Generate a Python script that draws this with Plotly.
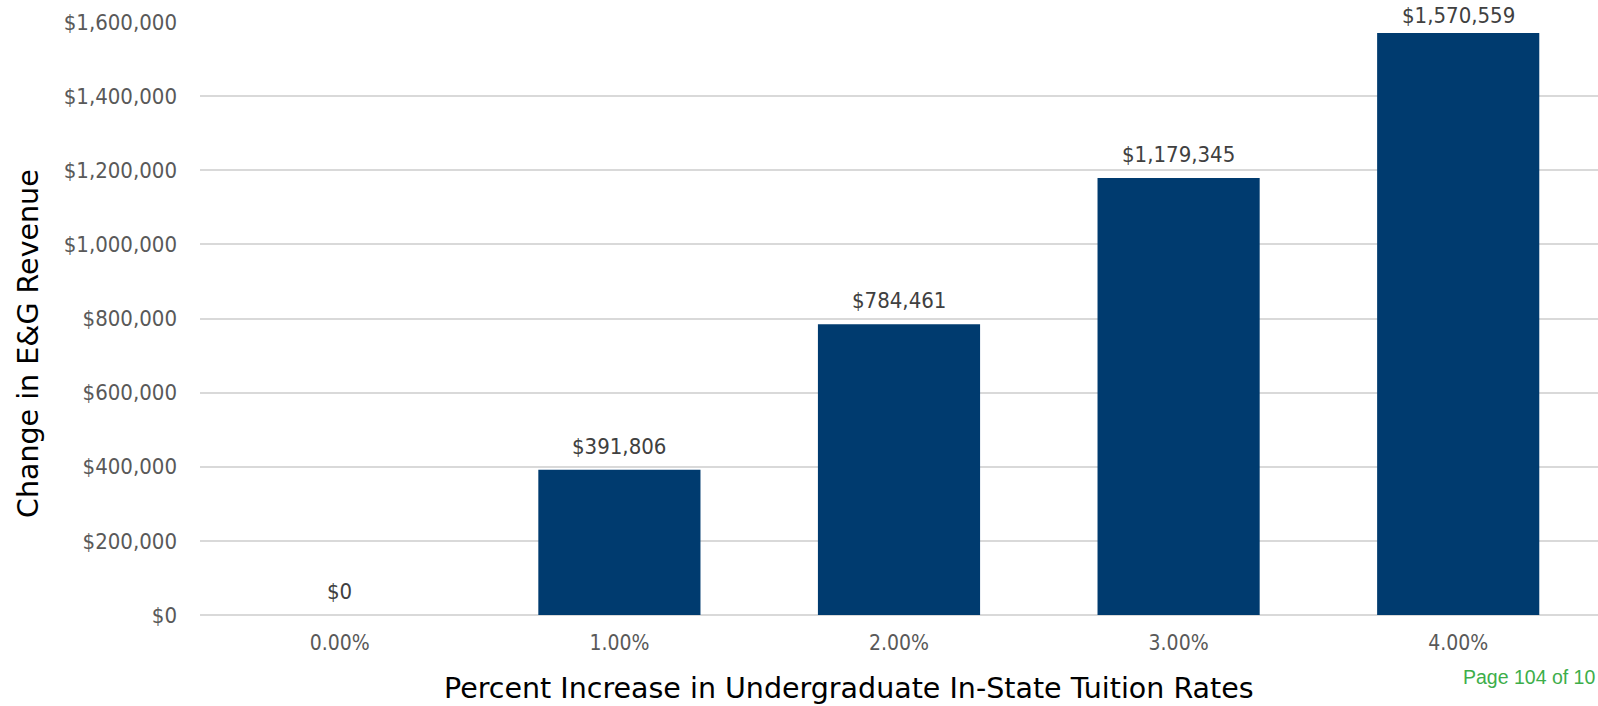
import plotly.graph_objects as go

# Tuition scenarios and resulting change in E&G revenue
categories = ["0.00%", "1.00%", "2.00%", "3.00%", "4.00%"]
revenue_change = [0, 391806, 784461, 1179345, 1570559]
y_tick_values = [0, 200000, 400000, 600000, 800000, 1000000, 1200000, 1400000, 1600000]
y_tick_labels = ["$0", "$200,000", "$400,000", "$600,000", "$800,000",
                 "$1,000,000", "$1,200,000", "$1,400,000", "$1,600,000"]

BAR_COLOR = "#003B6F"
TICK_COLOR = "#595959"
LABEL_COLOR = "#404040"
FONT = "DejaVu Sans"
NUM_FONT = "DejaVu Sans Condensed"

W, H = 1598, 706
L, R, T, B = 200, 0, 22, 91
plot_w = W - L - R
plot_h = H - T - B
Y_MAX = 1600000
LABEL_GAP = 9       # space between bar top and its value label
LABEL_BOX = 28      # approximate height of a value label box


def px_x(x):
    return (x - L) / plot_w


def px_y(y):
    return (H - B - y) / plot_h


fig = go.Figure()
fig.add_trace(go.Bar(
    x=categories,
    y=revenue_change,
    marker=dict(color=BAR_COLOR, line=dict(width=0)),
    width=0.58,
    hoverinfo="skip",
))

# Value labels above each bar, nudged down when they would run off the top
for cat, val in zip(categories, revenue_change):
    bar_top = T + (1 - val / Y_MAX) * plot_h
    shift = min(LABEL_GAP, bar_top - LABEL_BOX - 2)
    fig.add_annotation(
        x=cat, y=val, xref="x", yref="y",
        text=f"${val:,}",
        showarrow=False, yanchor="bottom", yshift=shift,
        font=dict(family=NUM_FONT, size=22, color=LABEL_COLOR),
    )

# Axis titles
fig.add_annotation(
    x=px_x(849), y=px_y(688), xref="paper", yref="paper",
    text="Percent Increase in Undergraduate In-State Tuition Rates",
    showarrow=False, xanchor="center", yanchor="middle",
    font=dict(family=FONT, size=28.5, color="#000000"),
)
fig.add_annotation(
    x=px_x(28), y=px_y(344), xref="paper", yref="paper",
    text="Change in E&G Revenue", textangle=-90,
    showarrow=False, xanchor="center", yanchor="middle",
    font=dict(family=FONT, size=28.5, color="#000000"),
)

# Footer page note
fig.add_annotation(
    x=px_x(1461), y=px_y(677), xref="paper", yref="paper",
    text="Page 104 of 10",
    showarrow=False, xanchor="left", yanchor="middle",
    font=dict(family="Liberation Sans", size=19.5, color="#3DAE4A"),
)

fig.update_layout(
    width=W, height=H,
    margin=dict(l=L, r=R, t=T, b=B),
    paper_bgcolor="white", plot_bgcolor="white",
    showlegend=False,
    xaxis=dict(
        type="category",
        tickfont=dict(family=NUM_FONT, size=21, color=TICK_COLOR),
        showgrid=False, zeroline=False, showline=False,
        ticks="", ticklabelstandoff=13,
    ),
    yaxis=dict(
        range=[0, Y_MAX],
        tickvals=y_tick_values, ticktext=y_tick_labels,
        tickfont=dict(family=NUM_FONT, size=22, color=TICK_COLOR),
        showgrid=True, gridcolor="#D9D9D9", gridwidth=2,
        zeroline=True, zerolinecolor="#D9D9D9", zerolinewidth=2,
        ticks="", ticklabelstandoff=22,
    ),
)

fig.write_html("out.html")
